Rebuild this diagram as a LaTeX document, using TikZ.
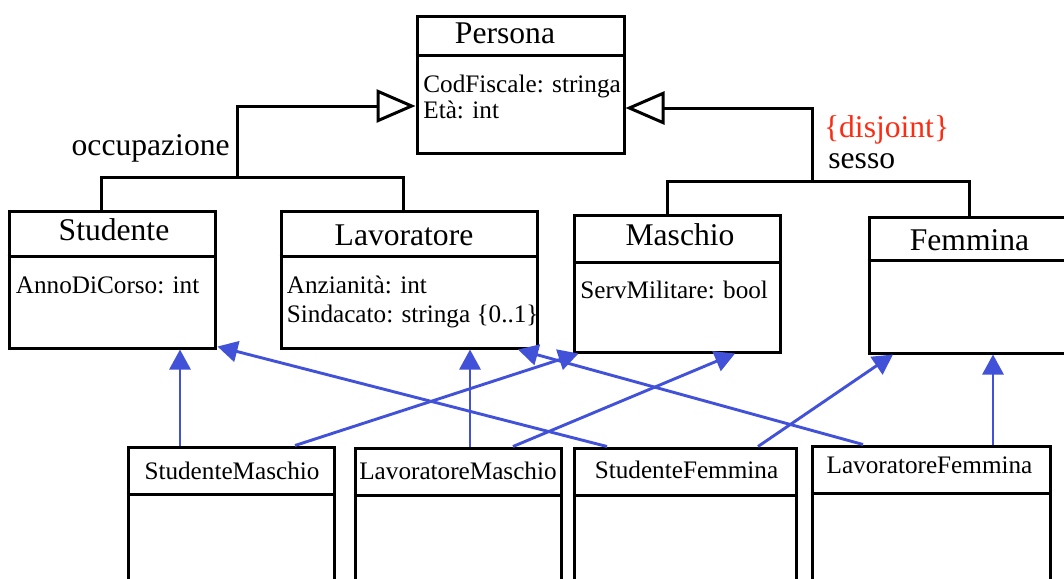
\documentclass[tikz,border=0pt]{standalone}
\usepackage{fontspec}
\setmainfont{Liberation Serif}
\usetikzlibrary{arrows.meta}

\definecolor{isablue}{RGB}{66,82,216}
\definecolor{disjred}{RGB}{250,45,20}

\begin{document}
\begin{tikzpicture}[
        x=0.5pt, y=-0.5pt,
        cls/.style={rectangle, draw=black, line width=1.5pt, inner sep=0pt},
        ctitle/.style={font=\fontsize{15.8}{18}\selectfont, inner sep=0pt, anchor=base},
        attr/.style={font=\fontsize{12.6}{13.5}\selectfont, inner sep=0pt, anchor=base west, align=left},
        subname/.style={font=\fontsize{12.6}{14}\selectfont, inner sep=0pt, anchor=base},
        lbl/.style={font=\fontsize{15.8}{18}\selectfont, inner sep=0pt},
        divider/.style={line width=1.5pt},
        genline/.style={line width=1.5pt},
        gen/.style={line width=1.5pt, -{Triangle[open, length=19.5pt, width=16.5pt, fill=white]}},
        isa/.style={line width=1.45pt, isablue, -{Triangle[length=10pt, width=10.5pt]}}
    ]
        \clip (0,0) rectangle (1064,578);

        % Classes
        \node[cls, minimum width=103.5pt, minimum height=68.5pt] (persona) at (520.5,84.5) {};
        \node[cls, minimum width=103pt, minimum height=68.5pt] (studente) at (112,279.5) {};
        \node[cls, minimum width=128pt, minimum height=68.5pt] (lavoratore) at (409,279.5) {};
        \node[cls, minimum width=103pt, minimum height=68.5pt] (maschio) at (677,283.5) {};
        \node[cls, minimum width=106pt, minimum height=68pt] (femmina) at (975,285) {};

        % Subclasses (cut at the bottom)
        \node[cls, minimum width=103pt, minimum height=90pt] (studmasc) at (231,537) {};
        \node[cls, minimum width=103pt, minimum height=90pt] (lavmasc) at (458,538) {};
        \node[cls, minimum width=111pt, minimum height=90pt] (studfem) at (685,538) {};
        \node[cls, minimum width=119pt, minimum height=90pt] (lavfem) at (931,536) {};

        % Dividers
        \draw[divider] ([yshift=-20.5pt]persona.north west) -- ([yshift=-20.5pt]persona.north east);
        \draw[divider] ([yshift=-23.5pt]studente.north west) -- ([yshift=-23.5pt]studente.north east);
        \draw[divider] ([yshift=-23.5pt]lavoratore.north west) -- ([yshift=-23.5pt]lavoratore.north east);
        \draw[divider] ([yshift=-24.5pt]maschio.north west) -- ([yshift=-24.5pt]maschio.north east);
        \draw[divider] ([yshift=-22.5pt]femmina.north west) -- ([yshift=-22.5pt]femmina.north east);
        \draw[divider] ([yshift=-24.5pt]studmasc.north west) -- ([yshift=-24.5pt]studmasc.north east);
        \draw[divider] ([yshift=-24.5pt]lavmasc.north west) -- ([yshift=-24.5pt]lavmasc.north east);
        \draw[divider] ([yshift=-24.5pt]studfem.north west) -- ([yshift=-24.5pt]studfem.north east);
        \draw[divider] ([yshift=-24.5pt]lavfem.north west) -- ([yshift=-24.5pt]lavfem.north east);

        % Names and attributes (base = last line)
        \node[ctitle] (ptitle) at (505,43) {Persona};
        \node[attr, font=\fontsize{12.6}{13}\selectfont] (pattr) at (423,118) {CodFiscale: stringa\\Età: int};
        \node[ctitle] (stitle) at (114,240) {Studente};
        \node[attr] (sattr) at (15.5,293) {AnnoDiCorso: int};
        \node[ctitle] (ltitle) at (404,245) {Lavoratore};
        \node[attr, font=\fontsize{12.6}{14.5}\selectfont] (lattr) at (286.5,322) {Anzianità: int\\Sindacato: stringa \{0..1\}};
        \node[ctitle] (mtitle) at (680,245) {Maschio};
        \node[attr] (mattr) at (580,298) {ServMilitare: bool};
        \node[ctitle] (ftitle) at (969.5,250) {Femmina};

        \node[subname] (smtitle) at (232,479) {StudenteMaschio};
        \node[subname] (lmtitle) at (458,479) {LavoratoreMaschio};
        \node[subname] (sftitle) at (686.5,478) {StudenteFemmina};
        \node[subname] (lftitle) at (929.5,473) {LavoratoreFemmina};

        % Generalizations
        \coordinate (occ) at (237.6,177);
        \coordinate (ses) at (812,181);
        \draw[genline] ([xshift=-5.2pt]studente.north) |- (occ) -| ([xshift=-2.7pt]lavoratore.north);
        \draw[gen] (occ) |- ([yshift=-10.75pt]persona.west);
        \draw[genline] ([xshift=-5pt]maschio.north) |- (ses) -| ([xshift=-3pt]femmina.north);
        \draw[gen] (ses) |- ([yshift=-11.75pt]persona.east);

        \node[lbl, anchor=base east] (occlbl) at (230,155) {occupazione};
        \node[lbl, anchor=base west, text=disjred] (disj) at (823.6,137) {\{disjoint\}};
        \node[lbl, anchor=base west] (seslbl) at (828,168) {sesso};

        % Multiple inheritance
        \draw[isa] ([xshift=-25.5pt]studmasc.north) -- ([xshift=34pt]studente.south);
        \draw[isa] ([xshift=32pt]studmasc.north) -- ([xshift=3pt]maschio.south west);
        \draw[isa] ([xshift=-39pt]studfem.north) -- ([xshift=0.5pt, yshift=1.5pt]studente.south east);
        \draw[isa] ([xshift=6pt]lavmasc.north) -- ([xshift=30.5pt]lavoratore.south);
        \draw[isa] ([xshift=27.5pt]lavmasc.north) -- ([xshift=29pt]maschio.south);
        \draw[isa] ([xshift=-34pt]lavfem.north) -- ([xshift=54.5pt]lavoratore.south);
        \draw[isa] ([xshift=36.5pt]studfem.north) -- ([xshift=-41pt]femmina.south);
        \draw[isa] ([xshift=31pt]lavfem.north) -- ([xshift=9pt]femmina.south);
    \end{tikzpicture}
\end{document}
